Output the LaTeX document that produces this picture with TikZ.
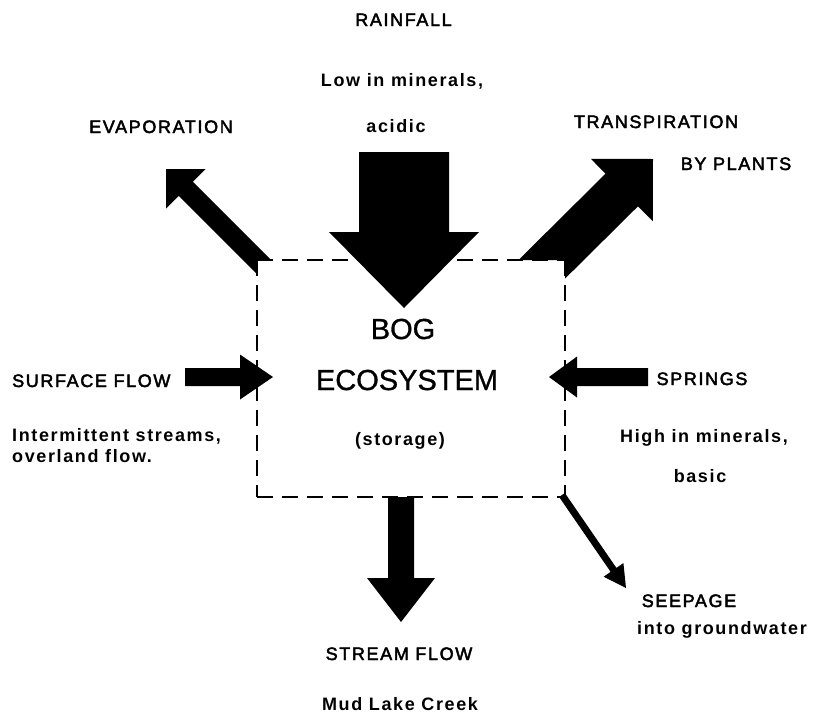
\documentclass[tikz,border=0pt]{standalone}
\usepackage{fontspec}
\newfontfamily\labfont{Liberation Sans}[LetterSpace=9]
\newfontfamily\capfont{Liberation Sans}[LetterSpace=9, FakeBold=2.5]
\newfontfamily\bogfont{Liberation Sans}[FakeBold=1]
\usetikzlibrary{calc}

\newcommand{\blockarrow}[5]{% start, tip, shaft half width, head half width, head length
  \coordinate (ba-h) at ($(#2)!#5!(#1)$);
  \fill ($(#1)!#3!90:(#2)$) -- ($(ba-h)!#3!90:(#2)$) -- ($(ba-h)!#4!90:(#2)$) -- (#2)
     -- ($(ba-h)!#4!-90:(#2)$) -- ($(ba-h)!#3!-90:(#2)$) -- ($(#1)!#3!-90:(#2)$) -- cycle;
}

\tikzset{
  lbl/.style={inner sep=0pt, anchor=base, font=\capfont\fontsize{18}{22}\selectfont},
  dsc/.style={inner sep=0pt, anchor=base, font=\labfont\bfseries\fontsize{18}{22}\selectfont},
  bogtxt/.style={inner sep=0pt, anchor=base, font=\bogfont\fontsize{29}{34}\selectfont},
  boxline/.style={line width=2.5pt, dash pattern=on 16pt off 9pt},
}

\begin{document}
\begin{tikzpicture}[x=1pt,y=-1pt]
\useasboundingbox[fill=white] (0,0) rectangle (814,724);

% box corners
\coordinate (tl) at (257,260);
\coordinate (tr) at (565,260);
\coordinate (bl) at (257,497);
\coordinate (br) at (565,497);

\draw[boxline] (tl) -- (bl);
\draw[boxline] (bl) -- (br);
\draw[boxline] (tr) -- (br);
\draw[boxline] (tl) -- (tr);

% arrow end points
\coordinate (rainS) at (404,152);
\coordinate (rainE) at (404,308);
\coordinate (evapS) at (276,279);
\coordinate (evapE) at (166,169);
\coordinate (tranS) at (531.5,279.5);
\coordinate (tranE) at (653,159);
\coordinate (surfS) at (185,377);
\coordinate (surfE) at (273,377);
\coordinate (sprS) at (648,377);
\coordinate (sprE) at (549,377);
\coordinate (strS) at (401,497);
\coordinate (strE) at (401,622);
\coordinate (seepS) at (562,495);
\coordinate (seepE) at (626,588);

\blockarrow{rainS}{rainE}{45pt}{75pt}{76pt}
\begin{scope}[even odd rule]
  \clip (0,0) rectangle (814,724) (tl) rectangle (br);
  \blockarrow{evapS}{evapE}{10pt}{28pt}{28pt}
  \blockarrow{tranS}{tranE}{23pt}{44pt}{44pt}
\end{scope}
\blockarrow{surfS}{surfE}{9pt}{22.5pt}{33pt}
\blockarrow{sprS}{sprE}{9pt}{20.5pt}{28pt}
\blockarrow{strS}{strE}{13pt}{34pt}{44pt}
\blockarrow{seepS}{seepE}{3.5pt}{12pt}{22pt}

% labels
\node[lbl] (rain) at (403.5,26) {RAINFALL};
\node[dsc] (rain1) at (402,86) {Low in minerals,};
\node[dsc] (rain2) at (396,132) {acidic};
\node[lbl] (evap) at (161,133) {EVAPORATION};
\node[lbl] (tran1) at (656,128) {TRANSPIRATION};
\node[lbl] (tran2) at (736,170) {BY PLANTS};
\node[lbl, anchor=base west] (surf) at (12,387) {SURFACE FLOW};
\node[dsc, anchor=base west] (surf1) at (12,441) {Intermittent streams,};
\node[dsc, anchor=base west] (surf2) at (12,462) {overland flow.};
\node[lbl] (spr) at (702,385) {SPRINGS};
\node[dsc] (spr1) at (704,442) {High in minerals,};
\node[dsc] (spr2) at (700,482) {basic};
\node[bogtxt] (bog1) at (403,339) {BOG};
\node[bogtxt] (bog2) at (407,390) {ECOSYSTEM};
\node[dsc] (bog3) at (400,445) {(storage)};
\node[lbl] (seep) at (689,607) {SEEPAGE};
\node[dsc] (seep1) at (722,634) {into groundwater};
\node[lbl] (str) at (399,660) {STREAM FLOW};
\node[dsc] (str1) at (400,710) {Mud Lake Creek};
\end{tikzpicture}
\end{document}
